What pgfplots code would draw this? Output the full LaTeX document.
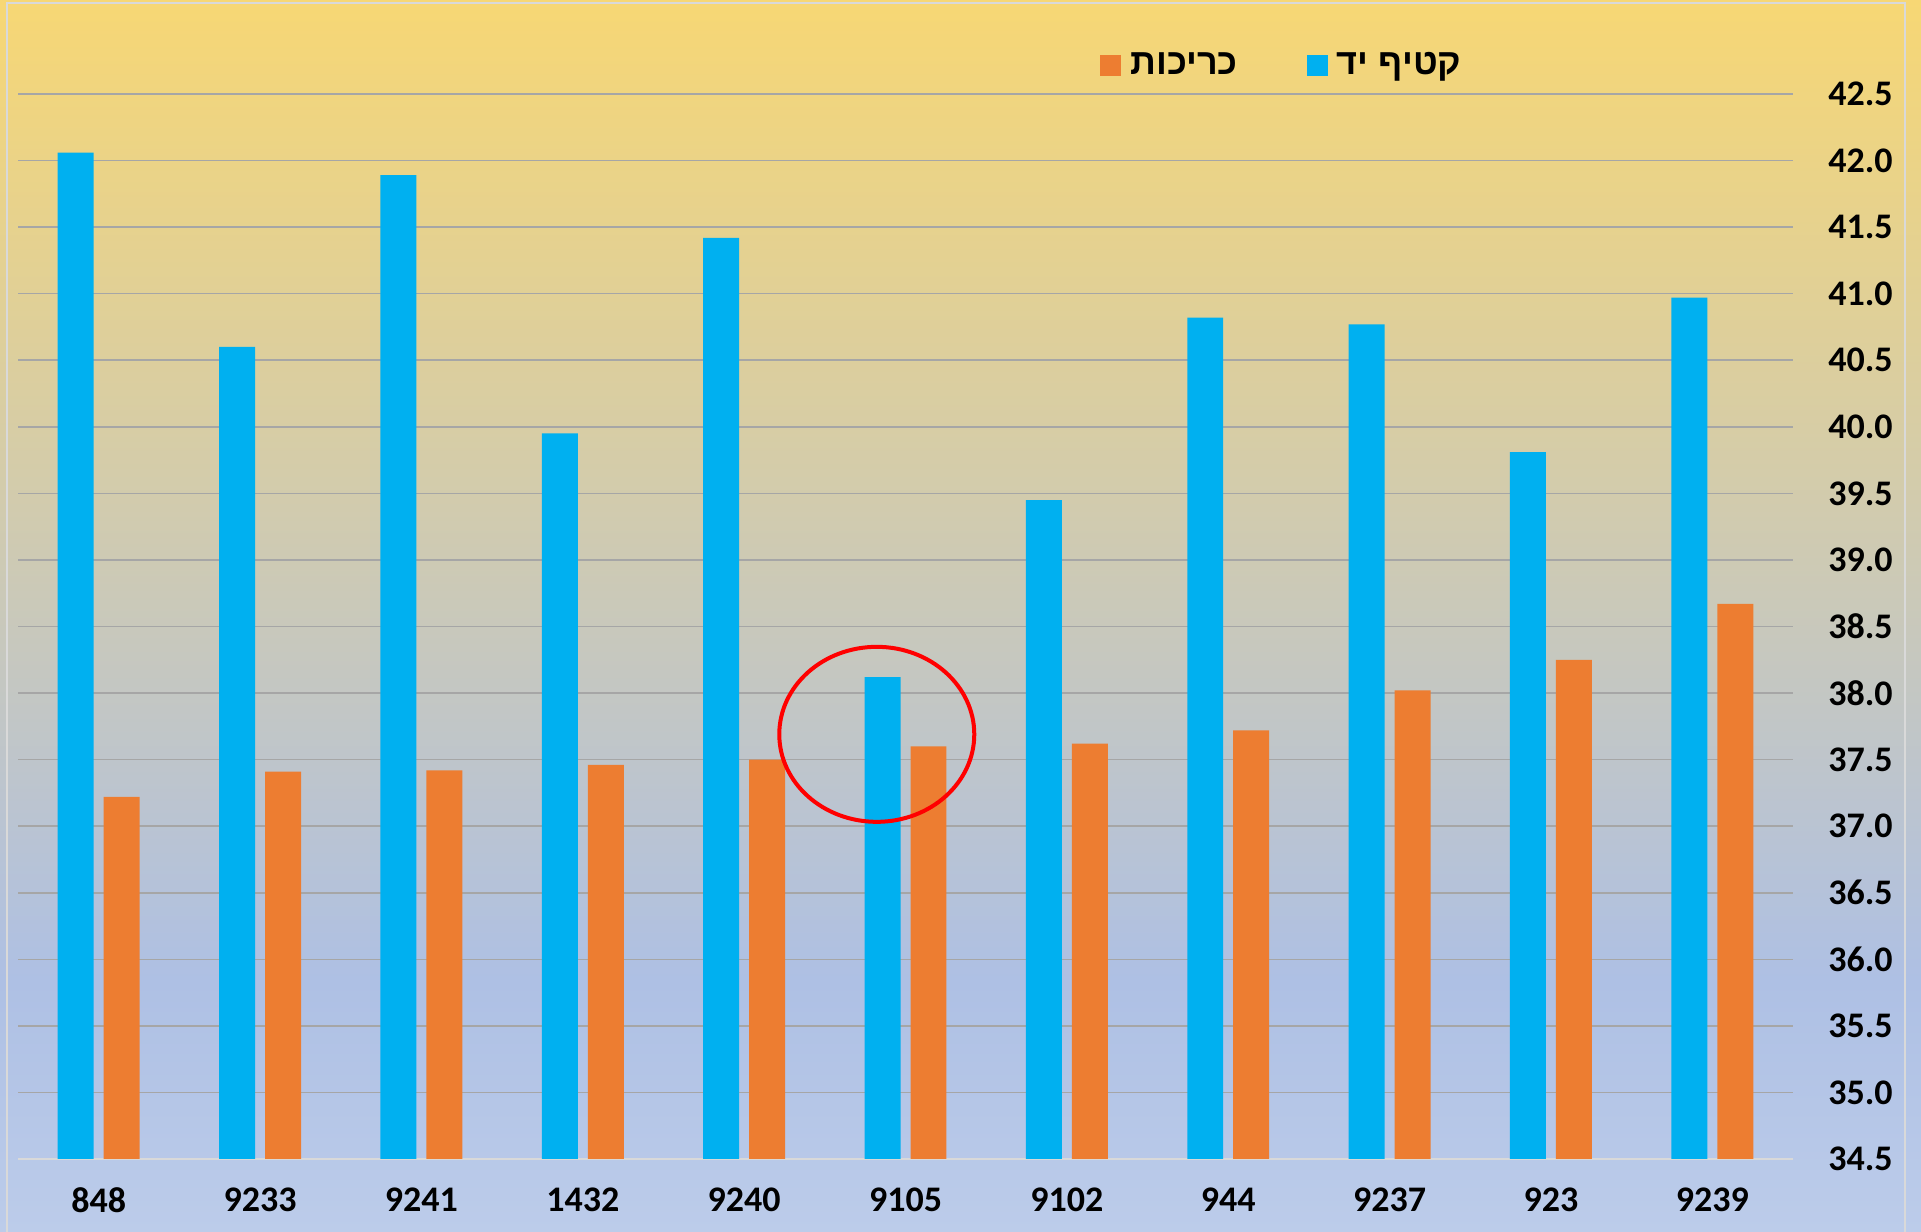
\documentclass[border=0pt]{standalone}
\usepackage{fontspec}
\setmainfont{Carlito}
\newfontfamily\hebfont[Script=Hebrew]{Liberation Sans}
\usepackage{pgfplots}
\usepackage{pgfplotstable}
\pgfplotsset{compat=1.18}
\TeXXeTstate=1

\definecolor{barblue}{HTML}{00B0F0}
\definecolor{barorange}{HTML}{ED7D31}
\definecolor{bgtop}{RGB}{247,215,116}
\definecolor{bgmid}{RGB}{174,192,228}
\definecolor{bgbot}{RGB}{188,204,234}
\definecolor{gridgray}{RGB}{166,166,166}
\definecolor{basegray}{RGB}{217,217,217}

\pgfplotsset{sqlegend/.style={legend image code/.code={\fill[##1] (0bp,-5.25bp) rectangle (10.5bp,5.25bp);}}}

% x: category index, hand = blue, cover = orange
\pgfplotstableread{
x hand cover
0 42.06 37.22
1 40.60 37.41
2 41.89 37.42
3 39.95 37.46
4 41.42 37.50
5 38.12 37.60
6 39.45 37.62
7 40.82 37.72
8 40.77 38.02
9 39.81 38.25
10 40.97 38.67
}\data

\begin{document}
\begin{tikzpicture}
\path[use as bounding box] (-9bp,-36.5bp) rectangle (951.5bp,579.5bp);
\shade[top color=bgtop, bottom color=bgmid] (-9bp,89.5bp) rectangle (951.5bp,579.5bp);
\shade[top color=bgmid, bottom color=bgbot] (-9bp,-36.5bp) rectangle (951.5bp,89.5bp);
\draw[basegray, line width=1.2bp] (-5.5bp,-40bp) -- (-5.5bp,578bp) -- (943.5bp,578bp) -- (943.5bp,-40bp);
\begin{axis}[
  at={(0,0)}, anchor=south west,
  scale only axis, width=887.5bp, height=532.5bp,
  xmin=-0.5, xmax=10.5, ymin=34.5, ymax=42.5,
  ybar, bar width=0.223,
  xtick={0,...,10},
  xticklabels={848,9233,9241,1432,9240,9105,9102,944,9237,923,9239},
  ytick={34.5,35,35.5,36,36.5,37,37.5,38,38.5,39,39.5,40,40.5,41,41.5,42,42.5},
  axis x line=bottom, axis y line=right,
  x axis line style={draw=basegray, line width=1.2bp, -},
  y axis line style={draw=none},
  major tick length=0pt,
  ymajorgrids, grid style={draw=gridgray, line width=0.8bp},
  tick label style={font=\bfseries\fontsize{18bp}{20bp}\selectfont, text=black},
  yticklabel style={anchor=east, xshift=50bp, inner sep=0pt,
    /pgf/number format/.cd, fixed, fixed zerofill, precision=1, assume math mode=true},
  xticklabel style={anchor=north, yshift=-14bp, inner sep=0pt,
    /pgf/number format/assume math mode=true},
  legend columns=2,
  legend style={at={(0.7115,1.0272)}, anchor=center, draw=none, fill=none,
    font=\hebfont\bfseries\fontsize{18bp}{20bp}\selectfont,
    nodes={inner sep=0pt},
    /tikz/every even column/.append style={column sep=34.5bp},
    /tikz/every odd column/.append style={column sep=4.5bp}},
]
\addplot[fill=barorange, draw=none, bar shift=0.1425, sqlegend] table[x=x, y=cover] {\data};
\addlegendentry{\beginR כריכות\endR}
\addplot[fill=barblue, draw=none, bar shift=-0.1425, sqlegend] table[x=x, y=hand] {\data};
\addlegendentry{\beginR קטיף יד\endR}
\draw[red, line width=2bp] (axis cs:4.822,37.69) ellipse [x radius=48.75bp, y radius=43.75bp];
\end{axis}
\end{tikzpicture}
\end{document}
